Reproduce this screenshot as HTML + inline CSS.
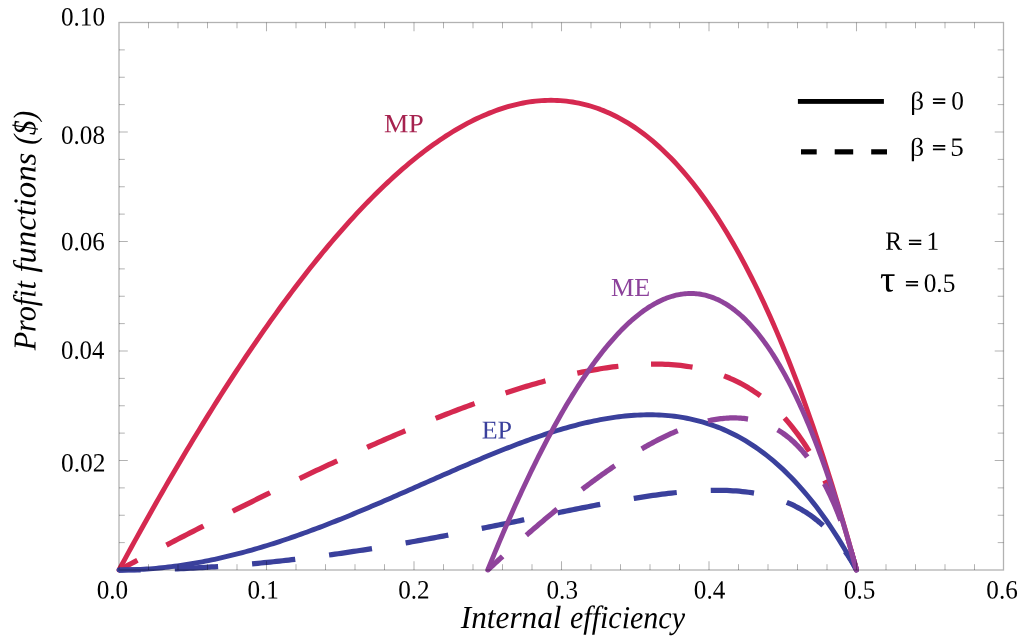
<!DOCTYPE html>
<html><head><meta charset="utf-8"><title>Profit functions</title>
<style>html,body{margin:0;padding:0;background:#fff}svg{display:block}</style></head>
<body>
<svg width="1024" height="642" viewBox="0 0 1024 642">
<rect width="1024" height="642" fill="#fff"/>
<g fill="none" stroke-linejoin="round">
<path d="M119.00 570.00 L122.09 564.29 L125.17 558.59 L128.26 552.93 L131.34 547.29 L134.43 541.67 L137.51 536.07 L140.60 530.51 L143.69 524.96 L146.77 519.45 L149.86 513.95 L152.94 508.49 L156.03 503.05 L159.12 497.63 L162.20 492.24 L165.29 486.88 L168.37 481.54 L171.46 476.23 L174.54 470.95 L177.63 465.69 L180.72 460.46 L183.80 455.26 L186.89 450.08 L189.97 444.94 L193.06 439.82 L196.14 434.73 L199.23 429.66 L202.32 424.63 L205.40 419.62 L208.49 414.64 L211.57 409.70 L214.66 404.78 L217.74 399.89 L220.83 395.02 L223.92 390.19 L227.00 385.39 L230.09 380.62 L233.17 375.88 L236.26 371.17 L239.35 366.49 L242.43 361.84 L245.52 357.22 L248.60 352.64 L251.69 348.08 L254.77 343.56 L257.86 339.07 L260.95 334.61 L264.03 330.18 L267.12 325.79 L270.20 321.43 L273.29 317.10 L276.37 312.81 L279.46 308.55 L282.55 304.32 L285.63 300.13 L288.72 295.97 L291.80 291.85 L294.89 287.76 L297.97 283.71 L301.06 279.69 L304.15 275.70 L307.23 271.76 L310.32 267.85 L313.40 263.97 L316.49 260.13 L319.58 256.33 L322.66 252.57 L325.75 248.84 L328.83 245.15 L331.92 241.50 L335.00 237.89 L338.09 234.32 L341.18 230.78 L344.26 227.29 L347.35 223.83 L350.43 220.41 L353.52 217.04 L356.60 213.70 L359.69 210.40 L362.78 207.15 L365.86 203.93 L368.95 200.76 L372.03 197.63 L375.12 194.54 L378.21 191.50 L381.29 188.49 L384.38 185.53 L387.46 182.62 L390.55 179.74 L393.63 176.91 L396.72 174.13 L399.81 171.39 L402.89 168.70 L405.98 166.05 L409.06 163.44 L412.15 160.89 L415.23 158.38 L418.32 155.91 L421.41 153.50 L424.49 151.13 L427.58 148.81 L430.66 146.54 L433.75 144.31 L436.83 142.14 L439.92 140.02 L443.01 137.94 L446.09 135.92 L449.18 133.95 L452.26 132.02 L455.35 130.15 L458.44 128.34 L461.52 126.57 L464.61 124.86 L467.69 123.20 L470.78 121.60 L473.86 120.04 L476.95 118.55 L480.04 117.11 L483.12 115.72 L486.21 114.39 L489.29 113.12 L492.38 111.91 L495.46 110.75 L498.55 109.65 L501.64 108.61 L504.72 107.62 L507.81 106.70 L510.89 105.84 L513.98 105.03 L517.06 104.29 L520.15 103.61 L523.24 102.99 L526.32 102.44 L529.41 101.95 L532.49 101.52 L535.58 101.16 L538.67 100.86 L541.75 100.62 L544.84 100.45 L547.92 100.35 L551.01 100.32 L554.09 100.35 L557.18 100.46 L560.27 100.63 L563.35 100.87 L566.44 101.18 L569.52 101.56 L572.61 102.01 L575.69 102.54 L578.78 103.14 L581.87 103.81 L584.95 104.56 L588.04 105.38 L591.12 106.27 L594.21 107.25 L597.29 108.29 L600.38 109.42 L603.47 110.63 L606.55 111.91 L609.64 113.28 L612.72 114.72 L615.81 116.25 L618.90 117.86 L621.98 119.55 L625.07 121.33 L628.15 123.19 L631.24 125.13 L634.32 127.16 L637.41 129.28 L640.50 131.49 L643.58 133.78 L646.67 136.17 L649.75 138.64 L652.84 141.21 L655.92 143.87 L659.01 146.62 L662.10 149.46 L665.18 152.41 L668.27 155.44 L671.35 158.58 L674.44 161.81 L677.53 165.14 L680.61 168.57 L683.70 172.10 L686.78 175.73 L689.87 179.47 L692.95 183.31 L696.04 187.26 L699.13 191.31 L702.21 195.47 L705.30 199.73 L708.38 204.11 L711.47 208.60 L714.55 213.20 L717.64 217.91 L720.73 222.74 L723.81 227.68 L726.90 232.74 L729.98 237.92 L733.07 243.21 L736.15 248.63 L739.24 254.17 L742.33 259.83 L745.41 265.62 L748.50 271.53 L751.58 277.57 L754.67 283.73 L757.76 290.03 L760.84 296.46 L763.93 303.02 L767.01 309.72 L770.10 316.55 L773.18 323.52 L776.27 330.63 L779.36 337.88 L782.44 345.28 L785.53 352.81 L788.61 360.49 L791.70 368.32 L794.78 376.30 L797.87 384.43 L800.96 392.71 L804.04 401.14 L807.13 409.73 L810.21 418.48 L813.30 427.39 L816.38 436.46 L819.47 445.69 L822.56 455.09 L825.64 464.66 L828.73 474.40 L831.81 484.30 L834.90 494.39 L837.99 504.64 L841.07 515.08 L844.16 525.69 L847.24 536.49 L850.33 547.47 L853.41 558.64 L856.50 570.00" stroke="#d52950" stroke-width="4.9" stroke-linecap="round"/>
<path d="M119.00 570.00 L122.09 568.36 L125.17 566.73 L128.26 565.10 L131.34 563.47 L134.43 561.84 L137.51 560.22 L140.60 558.60 L143.69 556.97 L146.77 555.36 L149.86 553.74 L152.94 552.12 L156.03 550.51 L159.12 548.90 L162.20 547.29 L165.29 545.69 L168.37 544.09 L171.46 542.48 L174.54 540.89 L177.63 539.29 L180.72 537.70 L183.80 536.10 L186.89 534.52 L189.97 532.93 L193.06 531.35 L196.14 529.76 L199.23 528.19 L202.32 526.61 L205.40 525.04 L208.49 523.47 L211.57 521.90 L214.66 520.33 L217.74 518.77 L220.83 517.21 L223.92 515.65 L227.00 514.10 L230.09 512.55 L233.17 511.00 L236.26 509.46 L239.35 507.91 L242.43 506.38 L245.52 504.84 L248.60 503.31 L251.69 501.78 L254.77 500.25 L257.86 498.73 L260.95 497.21 L264.03 495.69 L267.12 494.18 L270.20 492.67 L273.29 491.17 L276.37 489.66 L279.46 488.16 L282.55 486.67 L285.63 485.18 L288.72 483.69 L291.80 482.21 L294.89 480.73 L297.97 479.25 L301.06 477.78 L304.15 476.31 L307.23 474.85 L310.32 473.39 L313.40 471.93 L316.49 470.48 L319.58 469.03 L322.66 467.59 L325.75 466.15 L328.83 464.71 L331.92 463.28 L335.00 461.86 L338.09 460.44 L341.18 459.02 L344.26 457.61 L347.35 456.21 L350.43 454.80 L353.52 453.41 L356.60 452.02 L359.69 450.63 L362.78 449.25 L365.86 447.88 L368.95 446.51 L372.03 445.14 L375.12 443.78 L378.21 442.43 L381.29 441.08 L384.38 439.74 L387.46 438.40 L390.55 437.07 L393.63 435.75 L396.72 434.43 L399.81 433.12 L402.89 431.82 L405.98 430.52 L409.06 429.23 L412.15 427.94 L415.23 426.66 L418.32 425.39 L421.41 424.13 L424.49 422.87 L427.58 421.62 L430.66 420.38 L433.75 419.14 L436.83 417.92 L439.92 416.70 L443.01 415.49 L446.09 414.28 L449.18 413.09 L452.26 411.90 L455.35 410.72 L458.44 409.55 L461.52 408.39 L464.61 407.24 L467.69 406.10 L470.78 404.97 L473.86 403.84 L476.95 402.73 L480.04 401.62 L483.12 400.53 L486.21 399.44 L489.29 398.37 L492.38 397.31 L495.46 396.26 L498.55 395.21 L501.64 394.18 L504.72 393.16 L507.81 392.16 L510.89 391.16 L513.98 390.18 L517.06 389.21 L520.15 388.25 L523.24 387.30 L526.32 386.37 L529.41 385.45 L532.49 384.55 L535.58 383.66 L538.67 382.78 L541.75 381.92 L544.84 381.07 L547.92 380.24 L551.01 379.42 L554.09 378.62 L557.18 377.84 L560.27 377.07 L563.35 376.32 L566.44 375.58 L569.52 374.87 L572.61 374.17 L575.69 373.49 L578.78 372.83 L581.87 372.19 L584.95 371.56 L588.04 370.96 L591.12 370.38 L594.21 369.82 L597.29 369.29 L600.38 368.77 L603.47 368.28 L606.55 367.81 L609.64 367.37 L612.72 366.94 L615.81 366.55 L618.90 366.18 L621.98 365.84 L625.07 365.52 L628.15 365.24 L631.24 364.98 L634.32 364.75 L637.41 364.55 L640.50 364.38 L643.58 364.25 L646.67 364.15 L649.75 364.08 L652.84 364.04 L655.92 364.05 L659.01 364.09 L662.10 364.16 L665.18 364.28 L668.27 364.43 L671.35 364.63 L674.44 364.87 L677.53 365.16 L680.61 365.48 L683.70 365.86 L686.78 366.28 L689.87 366.76 L692.95 367.28 L696.04 367.86 L699.13 368.49 L702.21 369.18 L705.30 369.93 L708.38 370.74 L711.47 371.61 L714.55 372.55 L717.64 373.55 L720.73 374.62 L723.81 375.77 L726.90 376.99 L729.98 378.28 L733.07 379.66 L736.15 381.12 L739.24 382.66 L742.33 384.30 L745.41 386.03 L748.50 387.86 L751.58 389.79 L754.67 391.82 L757.76 393.96 L760.84 396.22 L763.93 398.60 L767.01 401.10 L770.10 403.73 L773.18 406.50 L776.27 409.41 L779.36 412.47 L782.44 415.69 L785.53 419.06 L788.61 422.61 L791.70 426.34 L794.78 430.26 L797.87 434.37 L800.96 438.69 L804.04 443.23 L807.13 448.01 L810.21 453.02 L813.30 458.30 L816.38 463.84 L819.47 469.68 L822.56 475.81 L825.64 482.28 L828.73 489.08 L831.81 496.25 L834.90 503.80 L837.99 511.77 L841.07 520.18 L844.16 529.06 L847.24 538.45 L850.33 548.37 L853.41 558.87 L856.50 570.00" stroke="#d52950" stroke-width="5.25" stroke-dasharray="41.69 32.73" stroke-dashoffset="20.85"/>
<path d="M119.00 570.00 L122.09 569.99 L125.17 569.95 L128.26 569.89 L131.34 569.81 L134.43 569.70 L137.51 569.57 L140.60 569.42 L143.69 569.25 L146.77 569.05 L149.86 568.83 L152.94 568.58 L156.03 568.32 L159.12 568.03 L162.20 567.72 L165.29 567.39 L168.37 567.04 L171.46 566.67 L174.54 566.27 L177.63 565.85 L180.72 565.42 L183.80 564.96 L186.89 564.48 L189.97 563.98 L193.06 563.46 L196.14 562.93 L199.23 562.37 L202.32 561.79 L205.40 561.19 L208.49 560.57 L211.57 559.94 L214.66 559.28 L217.74 558.61 L220.83 557.92 L223.92 557.21 L227.00 556.48 L230.09 555.74 L233.17 554.97 L236.26 554.19 L239.35 553.40 L242.43 552.58 L245.52 551.75 L248.60 550.90 L251.69 550.04 L254.77 549.16 L257.86 548.26 L260.95 547.35 L264.03 546.42 L267.12 545.48 L270.20 544.52 L273.29 543.55 L276.37 542.56 L279.46 541.56 L282.55 540.54 L285.63 539.51 L288.72 538.47 L291.80 537.41 L294.89 536.34 L297.97 535.26 L301.06 534.17 L304.15 533.06 L307.23 531.94 L310.32 530.81 L313.40 529.67 L316.49 528.51 L319.58 527.35 L322.66 526.17 L325.75 524.98 L328.83 523.79 L331.92 522.58 L335.00 521.36 L338.09 520.14 L341.18 518.90 L344.26 517.66 L347.35 516.41 L350.43 515.15 L353.52 513.88 L356.60 512.60 L359.69 511.32 L362.78 510.03 L365.86 508.73 L368.95 507.43 L372.03 506.12 L375.12 504.81 L378.21 503.48 L381.29 502.16 L384.38 500.83 L387.46 499.49 L390.55 498.15 L393.63 496.81 L396.72 495.46 L399.81 494.11 L402.89 492.76 L405.98 491.41 L409.06 490.05 L412.15 488.69 L415.23 487.33 L418.32 485.97 L421.41 484.61 L424.49 483.25 L427.58 481.88 L430.66 480.52 L433.75 479.16 L436.83 477.80 L439.92 476.45 L443.01 475.09 L446.09 473.74 L449.18 472.39 L452.26 471.04 L455.35 469.70 L458.44 468.36 L461.52 467.03 L464.61 465.70 L467.69 464.38 L470.78 463.06 L473.86 461.75 L476.95 460.44 L480.04 459.15 L483.12 457.86 L486.21 456.57 L489.29 455.30 L492.38 454.04 L495.46 452.78 L498.55 451.54 L501.64 450.31 L504.72 449.09 L507.81 447.87 L510.89 446.68 L513.98 445.49 L517.06 444.32 L520.15 443.16 L523.24 442.01 L526.32 440.88 L529.41 439.77 L532.49 438.67 L535.58 437.59 L538.67 436.52 L541.75 435.47 L544.84 434.44 L547.92 433.43 L551.01 432.44 L554.09 431.46 L557.18 430.51 L560.27 429.58 L563.35 428.67 L566.44 427.78 L569.52 426.92 L572.61 426.08 L575.69 425.26 L578.78 424.47 L581.87 423.71 L584.95 422.97 L588.04 422.25 L591.12 421.57 L594.21 420.91 L597.29 420.28 L600.38 419.69 L603.47 419.12 L606.55 418.58 L609.64 418.08 L612.72 417.61 L615.81 417.17 L618.90 416.76 L621.98 416.39 L625.07 416.06 L628.15 415.76 L631.24 415.51 L634.32 415.28 L637.41 415.10 L640.50 414.96 L643.58 414.86 L646.67 414.80 L649.75 414.78 L652.84 414.81 L655.92 414.88 L659.01 415.00 L662.10 415.16 L665.18 415.37 L668.27 415.63 L671.35 415.93 L674.44 416.29 L677.53 416.69 L680.61 417.15 L683.70 417.67 L686.78 418.23 L689.87 418.85 L692.95 419.53 L696.04 420.27 L699.13 421.06 L702.21 421.91 L705.30 422.82 L708.38 423.80 L711.47 424.83 L714.55 425.94 L717.64 427.10 L720.73 428.33 L723.81 429.63 L726.90 431.00 L729.98 432.44 L733.07 433.95 L736.15 435.54 L739.24 437.19 L742.33 438.92 L745.41 440.73 L748.50 442.62 L751.58 444.58 L754.67 446.63 L757.76 448.76 L760.84 450.97 L763.93 453.27 L767.01 455.65 L770.10 458.12 L773.18 460.68 L776.27 463.34 L779.36 466.08 L782.44 468.92 L785.53 471.86 L788.61 474.89 L791.70 478.02 L794.78 481.25 L797.87 484.59 L800.96 488.03 L804.04 491.58 L807.13 495.23 L810.21 499.00 L813.30 502.87 L816.38 506.86 L819.47 510.97 L822.56 515.19 L825.64 519.53 L828.73 524.00 L831.81 528.59 L834.90 533.30 L837.99 538.14 L841.07 543.11 L844.16 548.22 L847.24 553.46 L850.33 558.83 L853.41 564.34 L856.50 570.00" stroke="#3a409c" stroke-width="4.9" stroke-linecap="round"/>
<path d="M119.00 570.00 L122.09 570.00 L125.17 569.99 L128.26 569.97 L131.34 569.95 L134.43 569.91 L137.51 569.88 L140.60 569.83 L143.69 569.78 L146.77 569.72 L149.86 569.66 L152.94 569.59 L156.03 569.51 L159.12 569.43 L162.20 569.33 L165.29 569.24 L168.37 569.13 L171.46 569.02 L174.54 568.90 L177.63 568.78 L180.72 568.65 L183.80 568.51 L186.89 568.37 L189.97 568.22 L193.06 568.06 L196.14 567.90 L199.23 567.73 L202.32 567.55 L205.40 567.37 L208.49 567.18 L211.57 566.98 L214.66 566.78 L217.74 566.57 L220.83 566.36 L223.92 566.13 L227.00 565.91 L230.09 565.67 L233.17 565.43 L236.26 565.19 L239.35 564.93 L242.43 564.68 L245.52 564.41 L248.60 564.14 L251.69 563.86 L254.77 563.58 L257.86 563.29 L260.95 563.00 L264.03 562.69 L267.12 562.39 L270.20 562.07 L273.29 561.75 L276.37 561.43 L279.46 561.10 L282.55 560.76 L285.63 560.42 L288.72 560.07 L291.80 559.71 L294.89 559.35 L297.97 558.99 L301.06 558.62 L304.15 558.24 L307.23 557.86 L310.32 557.47 L313.40 557.07 L316.49 556.67 L319.58 556.27 L322.66 555.86 L325.75 555.44 L328.83 555.02 L331.92 554.60 L335.00 554.16 L338.09 553.73 L341.18 553.28 L344.26 552.84 L347.35 552.38 L350.43 551.93 L353.52 551.46 L356.60 550.99 L359.69 550.52 L362.78 550.04 L365.86 549.56 L368.95 549.07 L372.03 548.58 L375.12 548.08 L378.21 547.58 L381.29 547.08 L384.38 546.56 L387.46 546.05 L390.55 545.53 L393.63 545.00 L396.72 544.47 L399.81 543.94 L402.89 543.40 L405.98 542.86 L409.06 542.32 L412.15 541.77 L415.23 541.21 L418.32 540.65 L421.41 540.09 L424.49 539.53 L427.58 538.96 L430.66 538.39 L433.75 537.81 L436.83 537.23 L439.92 536.65 L443.01 536.06 L446.09 535.47 L449.18 534.88 L452.26 534.28 L455.35 533.68 L458.44 533.08 L461.52 532.47 L464.61 531.86 L467.69 531.25 L470.78 530.64 L473.86 530.02 L476.95 529.41 L480.04 528.79 L483.12 528.16 L486.21 527.54 L489.29 526.91 L492.38 526.28 L495.46 525.66 L498.55 525.02 L501.64 524.39 L504.72 523.76 L507.81 523.12 L510.89 522.48 L513.98 521.85 L517.06 521.21 L520.15 520.57 L523.24 519.93 L526.32 519.29 L529.41 518.65 L532.49 518.01 L535.58 517.37 L538.67 516.73 L541.75 516.09 L544.84 515.46 L547.92 514.82 L551.01 514.18 L554.09 513.55 L557.18 512.91 L560.27 512.28 L563.35 511.65 L566.44 511.02 L569.52 510.40 L572.61 509.78 L575.69 509.16 L578.78 508.54 L581.87 507.92 L584.95 507.31 L588.04 506.71 L591.12 506.11 L594.21 505.51 L597.29 504.91 L600.38 504.33 L603.47 503.74 L606.55 503.17 L609.64 502.60 L612.72 502.03 L615.81 501.47 L618.90 500.92 L621.98 500.38 L625.07 499.85 L628.15 499.32 L631.24 498.80 L634.32 498.29 L637.41 497.79 L640.50 497.30 L643.58 496.83 L646.67 496.36 L649.75 495.90 L652.84 495.46 L655.92 495.03 L659.01 494.61 L662.10 494.21 L665.18 493.82 L668.27 493.45 L671.35 493.09 L674.44 492.75 L677.53 492.43 L680.61 492.13 L683.70 491.85 L686.78 491.58 L689.87 491.34 L692.95 491.12 L696.04 490.92 L699.13 490.75 L702.21 490.60 L705.30 490.47 L708.38 490.38 L711.47 490.31 L714.55 490.28 L717.64 490.27 L720.73 490.30 L723.81 490.36 L726.90 490.45 L729.98 490.59 L733.07 490.76 L736.15 490.97 L739.24 491.23 L742.33 491.52 L745.41 491.87 L748.50 492.27 L751.58 492.71 L754.67 493.21 L757.76 493.77 L760.84 494.38 L763.93 495.06 L767.01 495.80 L770.10 496.61 L773.18 497.49 L776.27 498.44 L779.36 499.47 L782.44 500.59 L785.53 501.79 L788.61 503.09 L791.70 504.48 L794.78 505.97 L797.87 507.58 L800.96 509.29 L804.04 511.13 L807.13 513.09 L810.21 515.18 L813.30 517.42 L816.38 519.81 L819.47 522.36 L822.56 525.07 L825.64 527.97 L828.73 531.06 L831.81 534.36 L834.90 537.87 L837.99 541.62 L841.07 545.61 L844.16 549.87 L847.24 554.42 L850.33 559.28 L853.41 564.46 L856.50 570.00" stroke="#3a409c" stroke-width="5.25" stroke-dasharray="43.41 34.08" stroke-dashoffset="21.71"/>
<path d="M487.75 570.00 L489.29 566.19 L490.84 562.41 L492.38 558.64 L493.92 554.90 L495.46 551.18 L497.01 547.48 L498.55 543.80 L500.09 540.15 L501.64 536.51 L503.18 532.90 L504.72 529.31 L506.26 525.74 L507.81 522.20 L509.35 518.68 L510.89 515.18 L512.44 511.70 L513.98 508.25 L515.52 504.82 L517.06 501.41 L518.61 498.02 L520.15 494.66 L521.69 491.32 L523.24 488.01 L524.78 484.71 L526.32 481.45 L527.87 478.20 L529.41 474.98 L530.95 471.79 L532.49 468.61 L534.04 465.46 L535.58 462.34 L537.12 459.24 L538.67 456.16 L540.21 453.11 L541.75 450.09 L543.29 447.08 L544.84 444.11 L546.38 441.16 L547.92 438.23 L549.47 435.33 L551.01 432.45 L552.55 429.60 L554.09 426.77 L555.64 423.97 L557.18 421.20 L558.72 418.45 L560.27 415.73 L561.81 413.03 L563.35 410.36 L564.89 407.72 L566.44 405.10 L567.98 402.51 L569.52 399.95 L571.07 397.41 L572.61 394.90 L574.15 392.42 L575.69 389.96 L577.24 387.54 L578.78 385.13 L580.32 382.76 L581.87 380.42 L583.41 378.10 L584.95 375.81 L586.49 373.55 L588.04 371.31 L589.58 369.11 L591.12 366.93 L592.67 364.78 L594.21 362.66 L595.75 360.57 L597.29 358.51 L598.84 356.48 L600.38 354.47 L601.92 352.50 L603.47 350.55 L605.01 348.64 L606.55 346.75 L608.10 344.90 L609.64 343.07 L611.18 341.28 L612.72 339.52 L614.27 337.78 L615.81 336.08 L617.35 334.41 L618.90 332.76 L620.44 331.15 L621.98 329.58 L623.52 328.03 L625.07 326.51 L626.61 325.03 L628.15 323.57 L629.70 322.15 L631.24 320.77 L632.78 319.41 L634.32 318.09 L635.87 316.80 L637.41 315.54 L638.95 314.31 L640.50 313.12 L642.04 311.96 L643.58 310.84 L645.12 309.74 L646.67 308.69 L648.21 307.66 L649.75 306.67 L651.30 305.71 L652.84 304.79 L654.38 303.91 L655.92 303.05 L657.47 302.24 L659.01 301.46 L660.55 300.71 L662.10 300.00 L663.64 299.32 L665.18 298.68 L666.72 298.08 L668.27 297.51 L669.81 296.98 L671.35 296.48 L672.90 296.03 L674.44 295.60 L675.98 295.22 L677.53 294.87 L679.07 294.56 L680.61 294.29 L682.15 294.06 L683.70 293.86 L685.24 293.70 L686.78 293.59 L688.33 293.50 L689.87 293.46 L691.41 293.46 L692.95 293.50 L694.50 293.57 L696.04 293.69 L697.58 293.84 L699.13 294.04 L700.67 294.27 L702.21 294.55 L703.75 294.87 L705.30 295.22 L706.84 295.62 L708.38 296.06 L709.93 296.54 L711.47 297.07 L713.01 297.63 L714.55 298.24 L716.10 298.89 L717.64 299.58 L719.18 300.32 L720.73 301.09 L722.27 301.92 L723.81 302.78 L725.35 303.69 L726.90 304.64 L728.44 305.64 L729.98 306.68 L731.53 307.77 L733.07 308.90 L734.61 310.07 L736.15 311.30 L737.70 312.56 L739.24 313.88 L740.78 315.24 L742.33 316.64 L743.87 318.10 L745.41 319.60 L746.96 321.14 L748.50 322.74 L750.04 324.38 L751.58 326.07 L753.13 327.81 L754.67 329.59 L756.21 331.43 L757.76 333.31 L759.30 335.25 L760.84 337.23 L762.38 339.26 L763.93 341.35 L765.47 343.48 L767.01 345.66 L768.56 347.90 L770.10 350.19 L771.64 352.52 L773.18 354.92 L774.73 357.36 L776.27 359.85 L777.81 362.40 L779.36 365.00 L780.90 367.65 L782.44 370.36 L783.98 373.12 L785.53 375.94 L787.07 378.81 L788.61 381.73 L790.16 384.71 L791.70 387.75 L793.24 390.84 L794.78 393.99 L796.33 397.19 L797.87 400.45 L799.41 403.77 L800.96 407.15 L802.50 410.58 L804.04 414.07 L805.58 417.62 L807.13 421.23 L808.67 424.90 L810.21 428.63 L811.76 432.42 L813.30 436.26 L814.84 440.17 L816.38 444.14 L817.93 448.17 L819.47 452.27 L821.01 456.42 L822.56 460.64 L824.10 464.92 L825.64 469.26 L827.19 473.67 L828.73 478.14 L830.27 482.67 L831.81 487.27 L833.36 491.94 L834.90 496.67 L836.44 501.46 L837.99 506.33 L839.53 511.25 L841.07 516.25 L842.61 521.31 L844.16 526.45 L845.70 531.65 L847.24 536.92 L848.79 542.25 L850.33 547.66 L851.87 553.14 L853.41 558.69 L854.96 564.31 L856.50 570.00" stroke="#8f439b" stroke-width="4.9" stroke-linecap="round"/>
<path d="M487.75 570.00 L489.29 568.57 L490.84 567.14 L492.38 565.72 L493.92 564.30 L495.46 562.88 L497.01 561.46 L498.55 560.05 L500.09 558.64 L501.64 557.24 L503.18 555.84 L504.72 554.44 L506.26 553.04 L507.81 551.65 L509.35 550.26 L510.89 548.88 L512.44 547.50 L513.98 546.12 L515.52 544.74 L517.06 543.37 L518.61 542.00 L520.15 540.64 L521.69 539.28 L523.24 537.92 L524.78 536.57 L526.32 535.22 L527.87 533.88 L529.41 532.54 L530.95 531.20 L532.49 529.86 L534.04 528.54 L535.58 527.21 L537.12 525.89 L538.67 524.57 L540.21 523.26 L541.75 521.95 L543.29 520.65 L544.84 519.34 L546.38 518.05 L547.92 516.76 L549.47 515.47 L551.01 514.19 L552.55 512.91 L554.09 511.64 L555.64 510.37 L557.18 509.10 L558.72 507.84 L560.27 506.59 L561.81 505.34 L563.35 504.09 L564.89 502.85 L566.44 501.62 L567.98 500.39 L569.52 499.16 L571.07 497.94 L572.61 496.73 L574.15 495.52 L575.69 494.32 L577.24 493.12 L578.78 491.92 L580.32 490.74 L581.87 489.56 L583.41 488.38 L584.95 487.21 L586.49 486.04 L588.04 484.89 L589.58 483.73 L591.12 482.59 L592.67 481.44 L594.21 480.31 L595.75 479.18 L597.29 478.06 L598.84 476.94 L600.38 475.83 L601.92 474.73 L603.47 473.64 L605.01 472.55 L606.55 471.46 L608.10 470.39 L609.64 469.32 L611.18 468.26 L612.72 467.20 L614.27 466.16 L615.81 465.12 L617.35 464.08 L618.90 463.06 L620.44 462.04 L621.98 461.03 L623.52 460.03 L625.07 459.03 L626.61 458.05 L628.15 457.07 L629.70 456.10 L631.24 455.14 L632.78 454.19 L634.32 453.24 L635.87 452.31 L637.41 451.38 L638.95 450.46 L640.50 449.55 L642.04 448.65 L643.58 447.76 L645.12 446.88 L646.67 446.01 L648.21 445.14 L649.75 444.29 L651.30 443.45 L652.84 442.62 L654.38 441.80 L655.92 440.98 L657.47 440.18 L659.01 439.39 L660.55 438.61 L662.10 437.84 L663.64 437.09 L665.18 436.34 L666.72 435.60 L668.27 434.88 L669.81 434.17 L671.35 433.47 L672.90 432.78 L674.44 432.11 L675.98 431.45 L677.53 430.80 L679.07 430.16 L680.61 429.54 L682.15 428.93 L683.70 428.33 L685.24 427.75 L686.78 427.18 L688.33 426.62 L689.87 426.08 L691.41 425.56 L692.95 425.05 L694.50 424.55 L696.04 424.07 L697.58 423.61 L699.13 423.16 L700.67 422.73 L702.21 422.31 L703.75 421.91 L705.30 421.53 L706.84 421.16 L708.38 420.82 L709.93 420.49 L711.47 420.17 L713.01 419.88 L714.55 419.61 L716.10 419.35 L717.64 419.12 L719.18 418.90 L720.73 418.71 L722.27 418.53 L723.81 418.38 L725.35 418.25 L726.90 418.14 L728.44 418.05 L729.98 417.98 L731.53 417.94 L733.07 417.92 L734.61 417.92 L736.15 417.95 L737.70 418.00 L739.24 418.08 L740.78 418.19 L742.33 418.32 L743.87 418.47 L745.41 418.66 L746.96 418.87 L748.50 419.11 L750.04 419.38 L751.58 419.68 L753.13 420.00 L754.67 420.36 L756.21 420.76 L757.76 421.18 L759.30 421.63 L760.84 422.12 L762.38 422.65 L763.93 423.20 L765.47 423.80 L767.01 424.43 L768.56 425.09 L770.10 425.80 L771.64 426.54 L773.18 427.33 L774.73 428.15 L776.27 429.01 L777.81 429.92 L779.36 430.87 L780.90 431.87 L782.44 432.91 L783.98 434.00 L785.53 435.13 L787.07 436.32 L788.61 437.55 L790.16 438.84 L791.70 440.18 L793.24 441.57 L794.78 443.02 L796.33 444.52 L797.87 446.08 L799.41 447.70 L800.96 449.39 L802.50 451.13 L804.04 452.94 L805.58 454.82 L807.13 456.76 L808.67 458.77 L810.21 460.86 L811.76 463.01 L813.30 465.25 L814.84 467.56 L816.38 469.95 L817.93 472.42 L819.47 474.98 L821.01 477.62 L822.56 480.36 L824.10 483.18 L825.64 486.11 L827.19 489.13 L828.73 492.25 L830.27 495.47 L831.81 498.80 L833.36 502.24 L834.90 505.80 L836.44 509.48 L837.99 513.27 L839.53 517.19 L841.07 521.25 L842.61 525.43 L844.16 529.76 L845.70 534.23 L847.24 538.85 L848.79 543.62 L850.33 548.55 L851.87 553.65 L853.41 558.92 L854.96 564.37 L856.50 570.00" stroke="#8f439b" stroke-width="5.25" stroke-dasharray="40.42 31.73" stroke-dashoffset="20.21"/>
</g>
<g fill="none" stroke="#000" stroke-opacity="0.3">
<rect x="119.00" y="22.50" width="884.50" height="547.50" stroke-width="1.3"/>
<path d="M266.50 570.00 v-8.8 M266.50 22.50 v8.8 M414.00 570.00 v-8.8 M414.00 22.50 v8.8 M561.50 570.00 v-8.8 M561.50 22.50 v8.8 M709.00 570.00 v-8.8 M709.00 22.50 v8.8 M856.50 570.00 v-8.8 M856.50 22.50 v8.8 M119.00 460.50 h8.8 M1003.50 460.50 h-8.8 M119.00 351.00 h8.8 M1003.50 351.00 h-8.8 M119.00 241.50 h8.8 M1003.50 241.50 h-8.8 M119.00 132.00 h8.8 M1003.50 132.00 h-8.8" stroke-width="1.05"/>
<path d="M148.50 570.00 v-5.8 M148.50 22.50 v5.8 M178.00 570.00 v-5.8 M178.00 22.50 v5.8 M207.50 570.00 v-5.8 M207.50 22.50 v5.8 M237.00 570.00 v-5.8 M237.00 22.50 v5.8 M296.00 570.00 v-5.8 M296.00 22.50 v5.8 M325.50 570.00 v-5.8 M325.50 22.50 v5.8 M355.00 570.00 v-5.8 M355.00 22.50 v5.8 M384.50 570.00 v-5.8 M384.50 22.50 v5.8 M443.50 570.00 v-5.8 M443.50 22.50 v5.8 M473.00 570.00 v-5.8 M473.00 22.50 v5.8 M502.50 570.00 v-5.8 M502.50 22.50 v5.8 M532.00 570.00 v-5.8 M532.00 22.50 v5.8 M591.00 570.00 v-5.8 M591.00 22.50 v5.8 M620.50 570.00 v-5.8 M620.50 22.50 v5.8 M650.00 570.00 v-5.8 M650.00 22.50 v5.8 M679.50 570.00 v-5.8 M679.50 22.50 v5.8 M738.50 570.00 v-5.8 M738.50 22.50 v5.8 M768.00 570.00 v-5.8 M768.00 22.50 v5.8 M797.50 570.00 v-5.8 M797.50 22.50 v5.8 M827.00 570.00 v-5.8 M827.00 22.50 v5.8 M886.00 570.00 v-5.8 M886.00 22.50 v5.8 M915.50 570.00 v-5.8 M915.50 22.50 v5.8 M945.00 570.00 v-5.8 M945.00 22.50 v5.8 M974.50 570.00 v-5.8 M974.50 22.50 v5.8 M119.00 542.62 h5.8 M1003.50 542.62 h-5.8 M119.00 515.25 h5.8 M1003.50 515.25 h-5.8 M119.00 487.88 h5.8 M1003.50 487.88 h-5.8 M119.00 433.12 h5.8 M1003.50 433.12 h-5.8 M119.00 405.75 h5.8 M1003.50 405.75 h-5.8 M119.00 378.38 h5.8 M1003.50 378.38 h-5.8 M119.00 323.62 h5.8 M1003.50 323.62 h-5.8 M119.00 296.25 h5.8 M1003.50 296.25 h-5.8 M119.00 268.88 h5.8 M1003.50 268.88 h-5.8 M119.00 214.12 h5.8 M1003.50 214.12 h-5.8 M119.00 186.75 h5.8 M1003.50 186.75 h-5.8 M119.00 159.38 h5.8 M1003.50 159.38 h-5.8 M119.00 104.62 h5.8 M1003.50 104.62 h-5.8 M119.00 77.25 h5.8 M1003.50 77.25 h-5.8 M119.00 49.88 h5.8 M1003.50 49.88 h-5.8" stroke-width="1.0"/>
</g>
<rect x="797.9" y="99" width="86" height="4.85" fill="#000"/>
<rect x="801.0" y="149.25" width="15.7" height="5.2" fill="#000"/>
<rect x="834.7" y="149.25" width="18.5" height="5.2" fill="#000"/>
<rect x="871.2" y="149.25" width="15.8" height="5.2" fill="#000"/>
<g font-family="'Liberation Serif', serif" fill="#000">
<text transform="translate(60.96 25.55) rotate(0.03) scale(0.9543 1)" font-size="26.4">0.10</text>
<text transform="translate(60.96 143.75) rotate(0.03) scale(0.9543 1)" font-size="26.4">0.08</text>
<text transform="translate(60.96 250.25) rotate(0.03) scale(0.9501 1)" font-size="26.4">0.06</text>
<text transform="translate(60.97 358.85) rotate(0.03) scale(0.9417 1)" font-size="26.4">0.04</text>
<text transform="translate(60.95 471.45) rotate(0.03) scale(0.9644 1)" font-size="26.4">0.02</text>
<text transform="translate(96.66 598.50) rotate(0.03) scale(0.9522 1)" font-size="26.4">0.0</text>
<text transform="translate(247.46 598.50) rotate(0.03) scale(0.9522 1)" font-size="26.4">0.1</text>
<text transform="translate(398.16 598.50) rotate(0.03) scale(0.9522 1)" font-size="26.4">0.2</text>
<text transform="translate(546.56 598.50) rotate(0.03) scale(0.9522 1)" font-size="26.4">0.3</text>
<text transform="translate(693.86 598.50) rotate(0.03) scale(0.9522 1)" font-size="26.4">0.4</text>
<text transform="translate(843.86 598.50) rotate(0.03) scale(0.9522 1)" font-size="26.4">0.5</text>
<text transform="translate(986.36 598.50) rotate(0.03) scale(0.9522 1)" font-size="26.4">0.6</text>
<text transform="translate(460.78 628.00) rotate(0.03) scale(0.9717 1)" font-size="32.2" font-style="italic">Internal</text>
<text transform="translate(570.00 628.10) rotate(0.03) scale(0.9327 1)" font-size="32.2" font-style="italic">efficiency</text>
<text transform="translate(35.50 350.30) rotate(-89.97) scale(0.9409 1)" font-size="32.0" font-style="italic">Profit</text>
<text transform="translate(35.50 272.61) rotate(-89.97) scale(1.0223 1)" font-size="32.0" font-style="italic">functions</text>
<text transform="translate(35.50 144.72) rotate(-89.97) scale(0.9119 1)" font-size="32.0" font-style="italic">($)</text>
<text transform="translate(384.08 132.35) rotate(0.03) scale(1.0425 1)" font-size="26.3" fill="#a6224f">MP</text>
<text transform="translate(611.02 296.00) rotate(0.03) scale(1.0088 1)" font-size="25.9" fill="#8c429b">ME</text>
<text transform="translate(481.72 438.50) rotate(0.03) scale(1.0127 1)" font-size="25.7" fill="#3a409c">EP</text>
<text transform="translate(910.14 109.40) rotate(0.03) scale(1.0620 1)" font-size="25.5">β</text>
<text transform="translate(932.18 107.30) rotate(0.03) scale(1.3136 1)" font-size="18.5" stroke="#000" stroke-width="0.8">=</text>
<text transform="translate(951.20 109.45) rotate(0.03) scale(0.9581 1)" font-size="26.4">0</text>
<text transform="translate(910.09 155.75) rotate(0.03) scale(1.0912 1)" font-size="25.5">β</text>
<text transform="translate(932.18 153.75) rotate(0.03) scale(1.3136 1)" font-size="18.5" stroke="#000" stroke-width="0.8">=</text>
<text transform="translate(950.24 155.80) rotate(0.03) scale(1.0258 1)" font-size="26.4">5</text>
<text transform="translate(885.24 249.70) rotate(0.03) scale(0.9617 1)" font-size="26.2">R</text>
<text transform="translate(908.13 248.40) rotate(0.03) scale(1.3136 1)" font-size="18.5" stroke="#000" stroke-width="0.8">=</text>
<text transform="translate(926.39 249.70) rotate(0.03) scale(0.9637 1)" font-size="26.2">1</text>
<text transform="translate(880.04 291.60) rotate(0.03) scale(1.0246 1)" font-size="37.4">τ</text>
<text transform="translate(905.21 289.85) rotate(0.03) scale(1.2903 1)" font-size="18.5" stroke="#000" stroke-width="0.8">=</text>
<text transform="translate(923.65 291.85) rotate(0.03) scale(0.9595 1)" font-size="26.4">0.5</text>
</g>
</svg>
</body></html>
